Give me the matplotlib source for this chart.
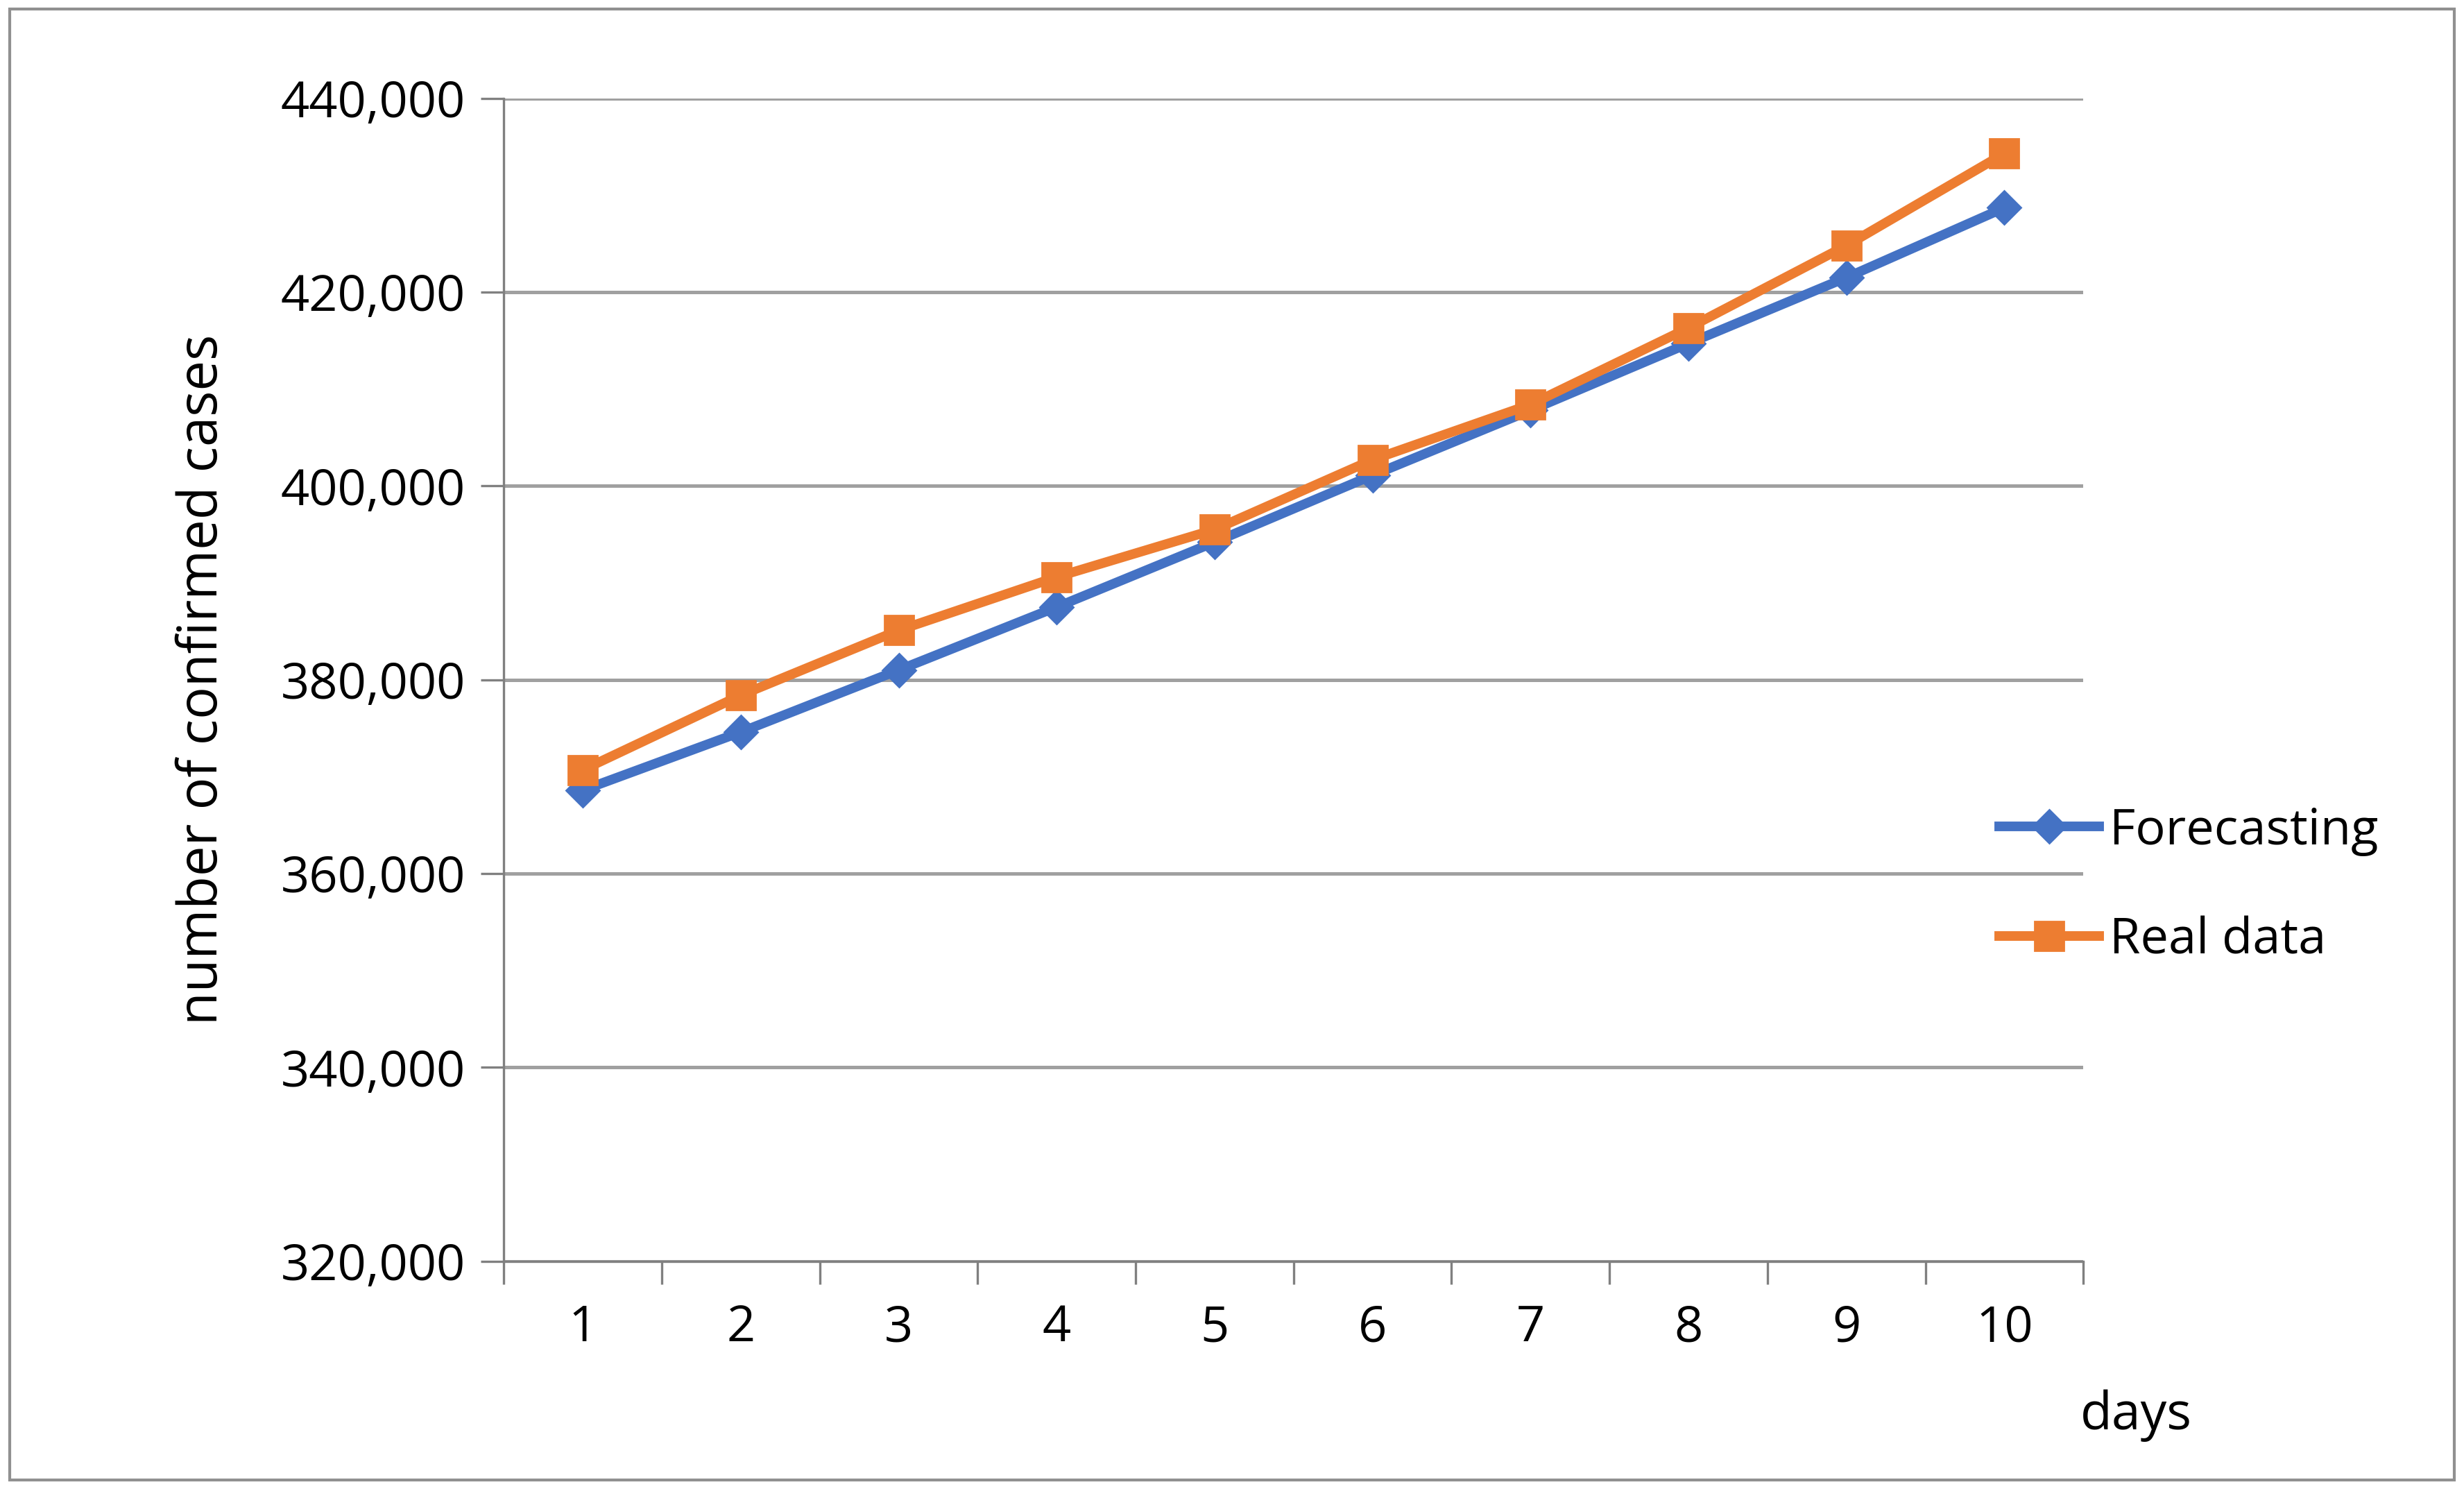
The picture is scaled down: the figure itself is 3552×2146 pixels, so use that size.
import matplotlib.pyplot as plt
from matplotlib.ticker import FuncFormatter, FixedLocator
from matplotlib.patches import Rectangle

plt.rcParams['font.family'] = ['Open Sans', 'DejaVu Sans']

days = list(range(1, 11))
forecasting = [368600, 374600, 381000, 387500, 394200, 401100, 407800, 414700, 421500, 428700]
real_data = [370700, 378400, 385100, 390600, 395500, 402700, 408400, 416300, 424800, 434300]

fig = plt.figure(figsize=(17.76, 10.73), dpi=200)
ax = fig.add_axes([0.2045, 0.153, 0.641, 0.781])

ax.plot(days, forecasting, color="#4472C4", lw=5, marker="D", ms=12, label="Forecasting", zorder=3)
ax.plot(days, real_data, color="#ED7D31", lw=5, marker="s", ms=15, label="Real data", zorder=4)

ax.set_xlim(0.5, 10.5)
ax.set_ylim(320000, 440000)
ax.set_yticks(range(320000, 440001, 20000))
ax.yaxis.set_major_formatter(FuncFormatter(lambda v, p: f"{int(v):,}"))
ax.xaxis.set_major_locator(FixedLocator([i + 0.5 for i in range(0, 11)]))
ax.xaxis.set_minor_locator(FixedLocator(days))
ax.xaxis.set_major_formatter(FuncFormatter(lambda v, p: ""))
ax.set_xticklabels([str(d) for d in days], minor=True)
ax.tick_params(axis="x", which="major", length=12, color="#808080", width=1.2)
ax.tick_params(axis="x", which="minor", length=0, pad=22, labelsize=26)
ax.tick_params(axis="y", length=12, color="#808080", width=1.2, labelsize=26, pad=8)
ax.grid(axis="y", color="#A0A0A0", lw=1.8)
for s in ["top", "right"]:
    ax.spines[s].set_visible(False)
for s in ["left", "bottom"]:
    ax.spines[s].set_color("#808080")
    ax.spines[s].set_linewidth(1.2)

ax.set_ylabel("number of confirmed cases", fontsize=28, labelpad=26)
fig.text(0.867, 0.04, "days", fontsize=27, ha="center")

fig.legend(loc="center left", bbox_to_anchor=(0.793, 0.405), frameon=False, fontsize=26,
           handlelength=2.0, labelspacing=1.2, handletextpad=0.2)

fig.add_artist(Rectangle((0.004, 0.006), 0.992, 0.988, transform=fig.transFigure,
                         fill=False, edgecolor="#909090", lw=1.5))

fig.savefig("out.png", dpi=200)
